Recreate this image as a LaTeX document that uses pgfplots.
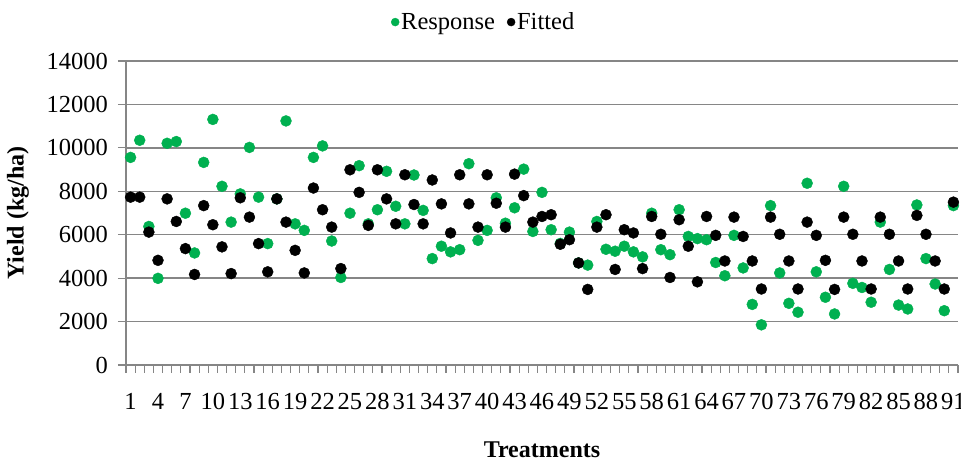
\documentclass[border=0pt]{standalone}
\usepackage{fontspec}
\setmainfont{Liberation Serif}
\usepackage{pgfplots}
\pgfplotsset{compat=1.18}
\definecolor{resp}{RGB}{0,176,80}
\definecolor{gridgray}{RGB}{134,134,134}
\newcommand\tfont{\fontsize{24.5}{29}\selectfont}

\begin{document}
\begin{tikzpicture}
\begin{axis}[
    at={(0,0)}, anchor=south west,
    scale only axis,
    width=832pt, height=304pt,
    xmin=0.5, xmax=91.5,
    ymin=0, ymax=14000,
    axis lines*=left,
    axis line style={draw=gridgray, line width=1.5pt},
    ymajorgrids,
    grid style={draw=gridgray, line width=1.5pt},
    tick align=outside,
    tick style={draw=gridgray, line width=1.2pt},
    major tick length=8pt,
    xtick={0.5,1.5,...,91.5},
    xticklabels={},
    extra x ticks={1,4,...,91},
    extra x tick labels={1,4,7,10,13,16,19,22,25,28,31,34,37,40,43,46,49,52,55,58,61,64,67,70,73,76,79,82,85,88,91},
    extra x tick style={tick style={draw=none}},
    ytick={0,2000,...,14000},
    scaled y ticks=false,
    /pgf/number format/1000 sep={},
    /pgf/number format/assume math mode=true,
    ticklabel style={font=\tfont},
    xticklabel style={anchor=base, yshift=-37pt},
    yticklabel style={anchor=east, inner sep=0pt, xshift=-10pt},
    ylabel={Yield (kg/ha)},
    xlabel={Treatments},
    label style={font=\fontsize{24}{28}\selectfont\bfseries},
    ylabel style={at={(rel axis cs:-0.13,0.5)}, anchor=center},
    xlabel style={at={(rel axis cs:0.5,-0.28)}, anchor=center},
    legend style={draw=none, at={(0.43,1.128)}, anchor=center,
        font=\tfont, legend columns=2,
        /tikz/every even column/.append style={column sep=10pt}},
    legend image code/.code={\draw[#1, mark size=4pt] plot coordinates {(4pt,0pt)};},
]
\addplot[only marks, mark=*, mark size=5.5pt, color=resp] coordinates {
(1,9560) (2,10350) (3,6380) (4,3990) (5,10210) (6,10290) (7,6990) (8,5160) (9,9330) (10,11310)
(11,8230) (12,6580) (13,7880) (14,10020) (15,7730) (16,5590) (17,7650) (18,11240) (19,6500) (20,6200)
(21,9560) (22,10090) (23,5710) (24,4030) (25,6990) (26,9180) (27,6500) (28,7150) (29,8920) (30,7310)
(31,6500) (32,8750) (33,7120) (34,4900) (35,5470) (36,5210) (37,5310) (38,9270) (39,5740) (40,6200)
(41,7700) (42,6530) (43,7240) (44,9020) (45,6150) (46,7950) (47,6230) (48,5600) (49,6120) (50,4700)
(51,4600) (52,6610) (53,5330) (54,5240) (55,5470) (56,5210) (57,4980) (58,6990) (59,5310) (60,5080)
(61,7150) (62,5920) (63,5820) (64,5770) (65,4720) (66,4110) (67,5970) (68,4470) (69,2790) (70,1850)
(71,7340) (72,4240) (73,2840) (74,2430) (75,8370) (76,4290) (77,3120) (78,2350) (79,8230) (80,3760)
(81,3570) (82,2890) (83,6580) (84,4400) (85,2760) (86,2580) (87,7370) (88,4900) (89,3730) (90,2500)
(91,7340)
};
\addlegendentry{Response}
\addplot[only marks, mark=*, mark size=5.5pt, color=black] coordinates {
(1,7730) (2,7730) (3,6120) (4,4820) (5,7650) (6,6610) (7,5360) (8,4170) (9,7340) (10,6460)
(11,5440) (12,4210) (13,7700) (14,6810) (15,5590) (16,4290) (17,7650) (18,6580) (19,5280) (20,4240)
(21,8150) (22,7150) (23,6350) (24,4440) (25,8990) (26,7950) (27,6430) (28,8990) (29,7650) (30,6500)
(31,8760) (32,7390) (33,6500) (34,8520) (35,7420) (36,6080) (37,8760) (38,7420) (39,6350) (40,8760)
(41,7450) (42,6350) (43,8790) (44,7800) (45,6580) (46,6840) (47,6920) (48,5560) (49,5770) (50,4700)
(51,3480) (52,6350) (53,6920) (54,4400) (55,6230) (56,6080) (57,4440) (58,6840) (59,6020) (60,4030)
(61,6690) (62,5470) (63,3830) (64,6840) (65,5970) (66,4790) (67,6810) (68,5920) (69,4790) (70,3500)
(71,6810) (72,6020) (73,4790) (74,3500) (75,6580) (76,5970) (77,4820) (78,3480) (79,6810) (80,6020)
(81,4790) (82,3500) (83,6810) (84,6020) (85,4790) (86,3500) (87,6890) (88,6020) (89,4790) (90,3500)
(91,7500)
};
\addlegendentry{Fitted}
\end{axis}
\pgfresetboundingbox
\path[use as bounding box] (-126pt,-97pt) rectangle (835pt,365pt);
\end{tikzpicture}
\end{document}
